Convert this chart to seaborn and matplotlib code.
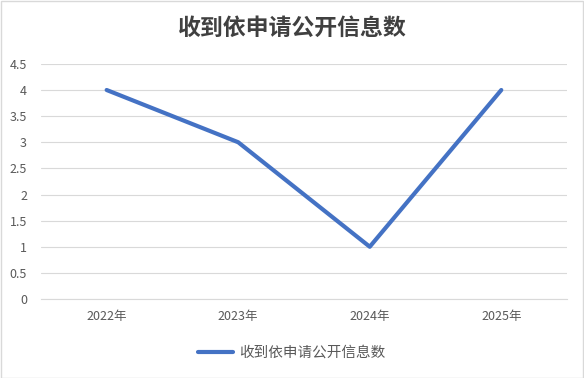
import matplotlib
matplotlib.use("Agg")
import matplotlib.pyplot as plt
import seaborn as sns
import pandas as pd
from matplotlib.patches import Rectangle
from matplotlib.lines import Line2D

categories = ["2022年", "2023年", "2024年", "2025年"]
values = [4, 3, 1, 4]
series_name = "收到依申请公开信息数"
yticks = [0, 0.5, 1, 1.5, 2, 2.5, 3, 3.5, 4, 4.5]
ytick_labels = ["0", "0.5", "1", "1.5", "2", "2.5", "3", "3.5", "4", "4.5"]

sns.set_theme(style="white")
plt.rcParams['font.family'] = ['Noto Sans CJK SC', 'DejaVu Sans']

df = pd.DataFrame({"year": categories, "value": values, "series": series_name})

fig = plt.figure(figsize=(5.84, 3.78), dpi=100)
ax = fig.add_axes([0.070, 0.209, 0.901, 0.622])
sns.lineplot(data=df, x="year", y="value", hue="series", palette=["#4472C4"],
             linewidth=3, ax=ax, sort=False, legend=False)

ax.set_xlim(-0.5, 3.5)
ax.set_ylim(0, 4.5)
ax.set_yticks(yticks)
ax.set_yticklabels(ytick_labels)
ax.yaxis.grid(True, color="#D9D9D9", linewidth=0.8)
ax.set_axisbelow(True)
for s in ["top", "right", "left"]:
    ax.spines[s].set_visible(False)
ax.spines["bottom"].set_color("#D9D9D9")
ax.spines["bottom"].set_linewidth(0.8)
ax.tick_params(axis="both", length=0, labelsize=9, colors="#595959", pad=8)
ax.tick_params(axis="y", pad=10)
ax.set_xlabel("")
ax.set_ylabel("")

fig.text(0.5, 0.925, series_name, ha="center", va="center", fontsize=16.5,
         fontweight="bold", color="#404040")

handle = Line2D([], [], color="#4472C4", linewidth=3)
fig.legend([handle], [series_name], loc="center", bbox_to_anchor=(0.5, 0.067),
           frameon=False, fontsize=10.5, labelcolor="#595959", handlelength=2.4,
           handletextpad=0.4)

fig.patches.append(Rectangle((0.001, 0.001), 0.997, 0.996, transform=fig.transFigure,
                             fill=False, edgecolor="#D9D9D9", linewidth=1))

fig.savefig("out.png", dpi=100, facecolor="white")
